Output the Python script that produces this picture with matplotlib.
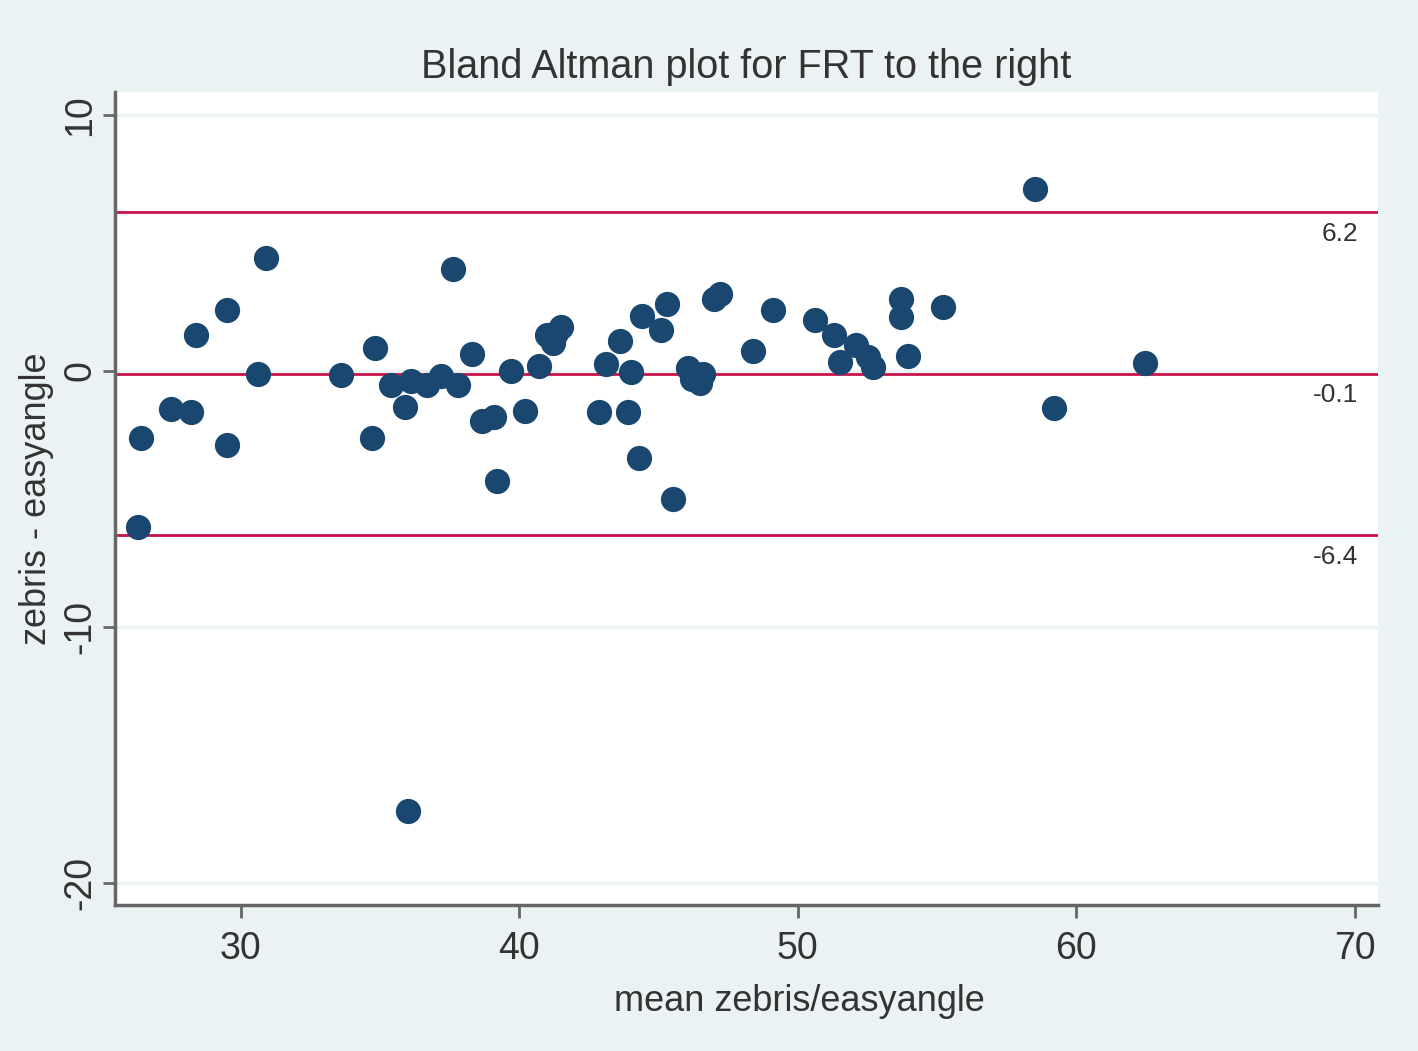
import matplotlib.pyplot as plt

plt.rcParams['font.family'] = ['Liberation Sans', 'DejaVu Sans']
plt.rcParams['axes.unicode_minus'] = False

# mean of the two methods and their difference (zebris - easyangle)
mean_vals = [26.3, 26.4, 27.5, 28.2, 28.4, 29.5, 29.5, 30.6, 30.9, 33.6,
             34.7, 34.8, 35.4, 35.9, 36.0, 36.1, 36.7, 37.2, 37.6, 37.8,
             38.3, 38.65, 39.1, 39.2, 39.7, 40.2, 40.7, 41.0, 41.3, 41.5,
             41.2, 42.85, 43.1, 43.6, 43.9, 44.0, 44.3, 44.4, 45.1, 45.3,
             45.5, 46.05, 46.2, 46.5, 46.6, 47.0, 47.2, 48.4, 49.1, 50.6,
             51.3, 51.5, 52.1, 52.5, 52.7, 53.7, 53.7, 53.95, 55.2, 58.5,
             59.2, 62.45]
diff_vals = [-6.1, -2.6, -1.5, -1.6, 1.4, 2.4, -2.9, -0.1, 4.4, -0.15,
             -2.6, 0.9, -0.55, -1.4, -17.2, -0.4, -0.55, -0.2, 4.0, -0.55,
             0.65, -1.95, -1.8, -4.3, 0.0, -1.55, 0.2, 1.4, 1.5, 1.7,
             1.1, -1.6, 0.27, 1.17, -1.6, -0.04, -3.4, 2.15, 1.6, 2.6,
             -5.0, 0.1, -0.3, -0.45, -0.1, 2.8, 3.0, 0.8, 2.4, 2.0,
             1.4, 0.35, 1.0, 0.55, 0.15, 2.8, 2.1, 0.6, 2.5, 7.1,
             -1.45, 0.3]

# limits of agreement and mean difference
lines = [6.2, -0.1, -6.4]
line_labels = ["6.2", "-0.1", "-6.4"]

bg = "#eaf2f3"
fig = plt.figure(figsize=(14.18, 10.51), dpi=100, facecolor=bg)
ax = fig.add_axes([0.0811, 0.1389, 0.8907, 0.7736])
ax.set_facecolor("white")

for t in [10, 0, -10, -20]:
    ax.axhline(t, color=bg, lw=2.5, zorder=0)

for v, lab in zip(lines, line_labels):
    ax.axhline(v, color="#c8144a", lw=2, zorder=1)
    ax.annotate(lab, xy=(1, v), xycoords=("axes fraction", "data"),
                xytext=(-14, -7), textcoords="offset points",
                ha="right", va="top", fontsize=19, color="#333333")

ax.scatter(mean_vals, diff_vals, s=330, color="#1a476f", zorder=3, linewidths=0)

ax.set_xlim(25.48, 70.83)
ax.set_ylim(-20.86, 10.9)
ax.set_xticks([30, 40, 50, 60, 70])
ax.set_yticks([-20, -10, 0, 10])

for s in ["top", "right"]:
    ax.spines[s].set_visible(False)
for s in ["left", "bottom"]:
    ax.spines[s].set_color("#666666")
    ax.spines[s].set_linewidth(2.5)

ax.tick_params(axis="both", length=9, width=2, color="#666666",
               labelsize=27, labelcolor="#333333", pad=10)
ax.tick_params(axis="y", pad=3)
plt.setp(ax.get_yticklabels(), rotation=90, va="center")

ax.set_title("Bland Altman plot for FRT to the right", fontsize=28.5,
             color="#333333", pad=10)
ax.set_xlabel("mean zebris/easyangle", fontsize=26, color="#333333")
ax.xaxis.set_label_coords(0.5415, -0.097)
ax.set_ylabel("zebris - easyangle", fontsize=26, color="#333333")
ax.yaxis.set_label_coords(-0.048, 0.5)

plt.savefig("out.png", dpi=100, facecolor=bg)
